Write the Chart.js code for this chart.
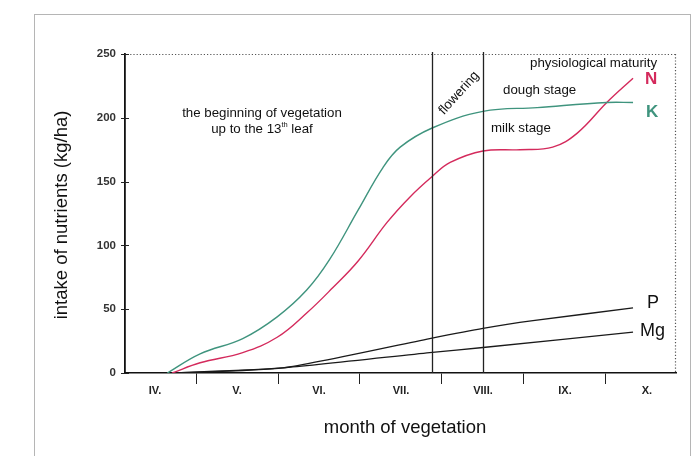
<!DOCTYPE html>
<html>
<head>
<meta charset="utf-8">
<script src="https://cdn.jsdelivr.net/npm/chart.js@4"></script>
<style>
html,body{margin:0;padding:0;background:#fff;}
#wrap{width:700px;height:456px;position:relative;}
</style>
</head>
<body>
<div id="wrap"><canvas id="c" width="700" height="456"></canvas></div>
<script>
// month labels (centred in each month interval; month index 0 = April)
const monthLabels = ['IV.', 'V.', 'VI.', 'VII.', 'VIII.', 'IX.', 'X.'];
const yTicks = [0, 50, 100, 150, 200, 250];

// time positions in months since start of April
const kMonths = [0.65, 1.05, 1.57, 1.99, 2.35, 2.63, 2.98, 3.28, 3.49, 3.88, 4.50, 5.16, 6.01, 6.33];
const kValues = [0, 15, 27, 44, 65, 89, 128, 161, 177, 192, 205, 208, 212, 212];

const nMonths = [0.71, 1.05, 1.57, 1.99, 2.35, 2.67, 2.98, 3.33, 3.61, 3.88, 4.10, 4.50, 4.95, 5.35, 5.65, 6.01, 6.33];
const nValues = [0, 8, 16, 28, 47, 67, 88, 118, 138, 154, 165, 174, 175, 177, 188, 212, 231];

const pMonths = [0.70, 2.06, 3.85, 4.50, 5.11, 6.33];
const pValues = [0, 4, 27, 35, 41, 51];

const mgMonths = [0.70, 2.06, 3.85, 4.50, 6.33];
const mgValues = [0, 4, 16, 20, 32];

// stage markers (months)
const floweringAt = 3.88;
const milkStageAt = 4.50;

const FONT = '"Liberation Sans", Arial, Helvetica, sans-serif';
const NARROW = '"Liberation Sans Narrow", "Liberation Sans", Arial, sans-serif';
const K_COLOR = '#3f947e';
const N_COLOR = '#d42a5c';

function pts(xs, ys){ return xs.map((x,i)=>({x:x, y:ys[i]})); }

const decor = {
  id: 'decor',
  beforeDraw(chart){
    const ctx = chart.ctx;
    ctx.save();
    ctx.fillStyle = '#fff';
    ctx.fillRect(0,0,chart.width,chart.height);
    ctx.strokeStyle = '#b5b5b5';
    ctx.lineWidth = 1;
    ctx.strokeRect(34.5, 14.5, 656, 480);
    ctx.restore();
  },
  afterDatasetsDraw(chart){
    const ctx = chart.ctx;
    const xs = chart.scales.x, ys = chart.scales.y;
    const a = chart.chartArea;
    ctx.save();
    // dotted top & right frame
    ctx.strokeStyle = '#555';
    ctx.lineWidth = 1.2;
    ctx.setLineDash([1.2, 2]);
    ctx.beginPath();
    ctx.moveTo(a.left+2, a.top+0.5); ctx.lineTo(a.right, a.top+0.5);
    ctx.moveTo(a.right-0.5, a.top); ctx.lineTo(a.right-0.5, a.bottom);
    ctx.stroke();
    ctx.setLineDash([]);
    // stage verticals
    ctx.strokeStyle = '#222';
    ctx.lineWidth = 1.3;
    [floweringAt, milkStageAt].forEach(v=>{
      const px = Math.round(xs.getPixelForValue(v))+0.5;
      ctx.beginPath(); ctx.moveTo(px, a.top-2); ctx.lineTo(px, a.bottom); ctx.stroke();
    });
    // y tick marks crossing axis
    ctx.lineWidth = 1;
    yTicks.forEach(v=>{
      const py = Math.round(ys.getPixelForValue(v))+0.5;
      ctx.beginPath(); ctx.moveTo(a.left-4, py); ctx.lineTo(a.left+4, py); ctx.stroke();
    });
    // annotations
    const AF = '13.3px ' + FONT;
    ctx.fillStyle = '#111';
    ctx.font = AF;
    ctx.textAlign = 'center';
    ctx.textBaseline = 'middle';
    ctx.fillText('the beginning of vegetation', 262, 113);
    // "up to the 13th leaf" with superscript
    const p1 = 'up to the 13', sup = 'th', p2 = ' leaf';
    ctx.font = AF;
    const w1 = ctx.measureText(p1).width, w3 = ctx.measureText(p2).width;
    ctx.font = '7.5px ' + FONT;
    const w2 = ctx.measureText(sup).width;
    let sx = 262 - (w1+w2+w3)/2;
    ctx.textAlign = 'left';
    ctx.font = AF;
    ctx.fillText(p1, sx, 129);
    ctx.font = '7.5px ' + FONT;
    ctx.fillText(sup, sx+w1, 125);
    ctx.font = AF;
    ctx.fillText(p2, sx+w1+w2, 129);

    ctx.fillText('dough stage', 503, 90);
    ctx.fillText('milk stage', 491, 128);
    ctx.fillText('physiological maturity', 530, 63);
    // flowering rotated
    ctx.save();
    ctx.translate(459, 93);
    ctx.rotate(-48*Math.PI/180);
    ctx.textAlign = 'center';
    ctx.fillText('flowering', 0, 0);
    ctx.restore();

    // series labels
    ctx.textAlign = 'left';
    ctx.font = 'bold 17px ' + FONT;
    ctx.fillStyle = N_COLOR; ctx.fillText('N', 645, 79);
    ctx.fillStyle = K_COLOR; ctx.fillText('K', 646, 112);
    ctx.font = '18px ' + FONT;
    ctx.fillStyle = '#111'; ctx.fillText('P', 647, 303);
    ctx.fillText('Mg', 640, 331);

    // axis titles
    ctx.fillStyle = '#111';
    ctx.font = '18.5px ' + FONT;
    ctx.textAlign = 'center';
    ctx.fillText('month of vegetation', 405, 428);
    ctx.save();
    ctx.translate(62, 215);
    ctx.rotate(-Math.PI/2);
    ctx.fillText('intake of nutrients (kg/ha)', 0, 0);
    ctx.restore();
    ctx.restore();
  }
};

new Chart(document.getElementById('c'), {
  type: 'line',
  data: {
    datasets: [
      {label:'K', data: pts(kMonths, kValues), borderColor: K_COLOR, borderWidth: 1.4, pointRadius: 0, tension: 0.4, fill:false},
      {label:'N', data: pts(nMonths, nValues), borderColor: N_COLOR, borderWidth: 1.4, pointRadius: 0, tension: 0.4, fill:false},
      {label:'P', data: pts(pMonths, pValues), borderColor: '#1a1a1a', borderWidth: 1.3, pointRadius: 0, tension: 0.2, fill:false},
      {label:'Mg', data: pts(mgMonths, mgValues), borderColor: '#1a1a1a', borderWidth: 1.3, pointRadius: 0, tension: 0.2, fill:false}
    ]
  },
  options: {
    responsive: false,
    animation: false,
    layout: { padding: { left: 0, top: 54, right: 24, bottom: 0 } },
    plugins: { legend: {display:false}, tooltip: {enabled:false}, title:{display:false} },
    scales: {
      x: {
        type: 'linear',
        min: 0.134, max: 6.854,
        afterFit(s){ s.height = 83; },
        afterBuildTicks(s){
          const t = [];
          for (let i=0;i<7;i++){ t.push({value:i+0.5}); if(i<6) t.push({value:i+1}); }
          s.ticks = t;
        },
        ticks: {
          autoSkip: false, maxRotation: 0, padding: 0,
          color: '#222',
          font: { family: NARROW, size: 11, weight: 'bold' },
          callback(v){ const i = v - 0.5; return Number.isInteger(i) ? monthLabels[i] : ''; }
        },
        grid: {
          drawOnChartArea: false, drawTicks: true, tickLength: 11,
          color(c){ return (c.tick && Number.isInteger(c.tick.value)) ? '#222' : 'rgba(0,0,0,0)'; },
          lineWidth: 1
        },
        border: { display: true, color: '#111', width: 1.5 }
      },
      y: {
        min: 0, max: 250,
        afterFit(s){ s.width = 125; },
        afterBuildTicks(s){ s.ticks = yTicks.map(v=>({value:v})); },
        ticks: { padding: 9, color: '#333', font: { family: NARROW, size: 11.5, weight: 'bold' } },
        grid: { display: false, drawTicks: false },
        border: { display: true, color: '#111', width: 1.8 }
      }
    }
  },
  plugins: [decor]
});
</script>
</body>
</html>
